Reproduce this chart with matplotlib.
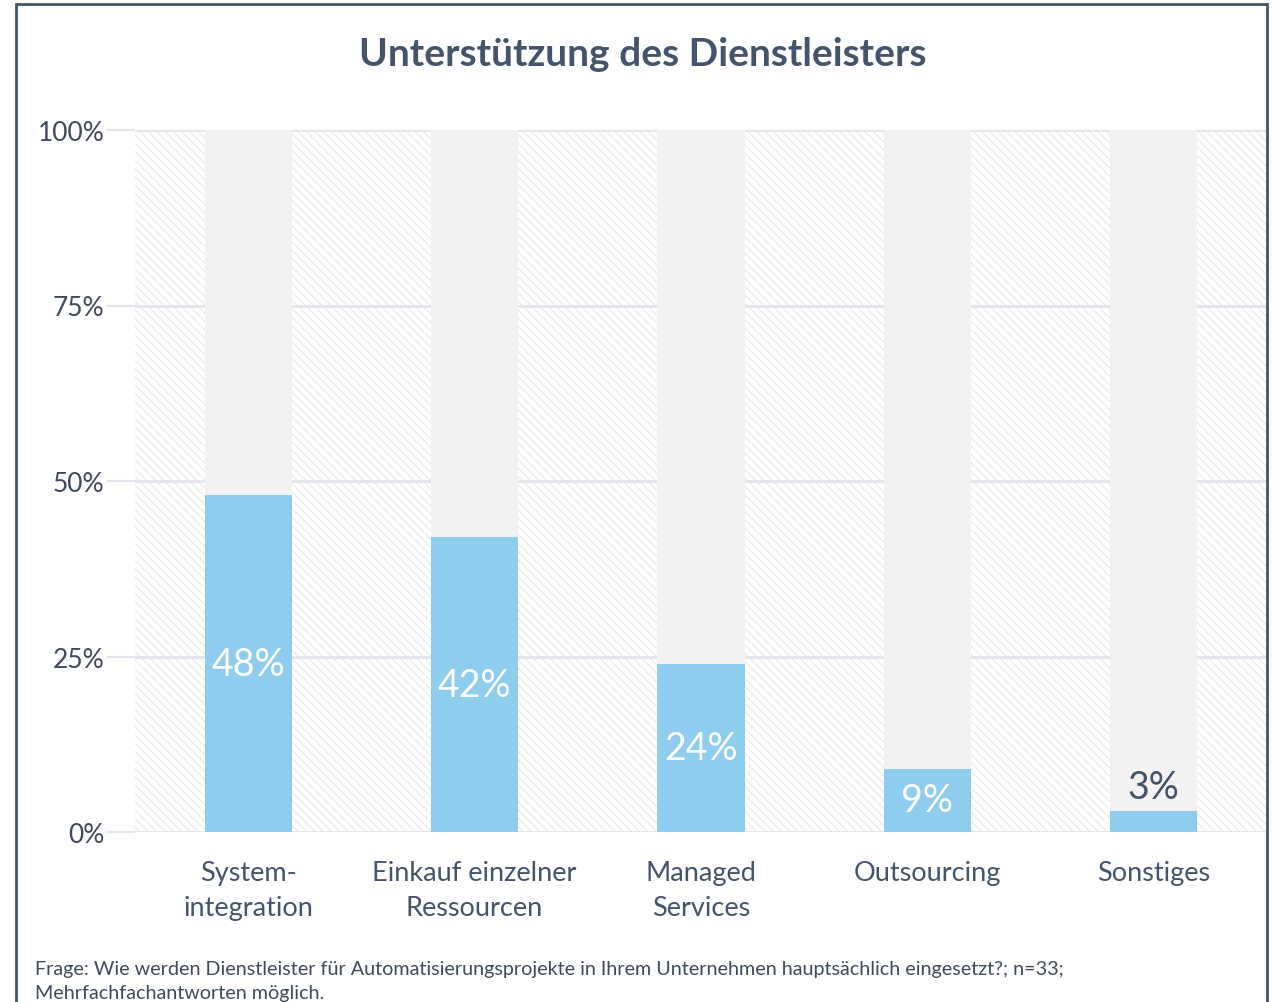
import matplotlib
matplotlib.use("Agg")
import matplotlib.pyplot as plt
from matplotlib.patches import Rectangle

categories = ["System-\nintegration", "Einkauf einzelner\nRessourcen", "Managed\nServices", "Outsourcing", "Sonstiges"]
values = [48, 42, 24, 9, 3]
labels = ["48%", "42%", "24%", "9%", "3%"]
yticks = [0, 25, 50, 75, 100]
ytick_labels = ["0%", "25%", "50%", "75%", "100%"]
title = "Unterstützung des Dienstleisters"
footer = ("Frage: Wie werden Dienstleister für Automatisierungsprojekte in Ihrem Unternehmen hauptsächlich eingesetzt?; n=33;\n"
          "Mehrfachfachantworten möglich.")

plt.rcParams['font.family'] = ['Lato', 'DejaVu Sans']
plt.rcParams['hatch.linewidth'] = 0.7
plt.rcParams['hatch.color'] = '#e6e6e6'

W, H = 1274, 1003
fig = plt.figure(figsize=(W / 100, H / 100), dpi=100)
ax = fig.add_axes([135 / W, 1 - 833 / H, (1267 - 135) / W, (833 - 131) / H])

dark = '#44546a'
text_col = '#404a5a'
blue = '#8ecdee'
grey = '#f2f2f2'
gridc = '#e1e4ea'

x = list(range(len(categories)))
ax.set_xlim(-0.5, len(categories) - 0.5)
ax.set_ylim(0, 100)

# hatched plot area background
ax.add_patch(Rectangle((0, 0), 1, 1, transform=ax.transAxes, facecolor='white',
                       edgecolor='#e6e6e6', hatch='\\\\\\\\', linewidth=0, zorder=0))
for yt in yticks:
    ax.axhline(yt, color=gridc, lw=2, zorder=1)

bw = 0.385
ax.bar(x, [100] * len(x), width=bw, color=grey, zorder=2)
ax.bar(x, values, width=bw, color=blue, zorder=3)

for xi, v, lab in zip(x, values, labels):
    if v >= 6:
        ax.text(xi, v / 2, lab, ha='center', va='center', color='white', fontsize=27, zorder=4)
    else:
        ax.text(xi, v + 0.8, lab, ha='center', va='bottom', color=dark, fontsize=27, zorder=4)

ax.set_yticks(yticks)
ax.set_yticklabels(ytick_labels, fontsize=19, color=text_col)
ax.tick_params(axis='y', length=20, width=1.5, color=gridc, pad=2)
ax.set_xticks(x)
ax.set_xticklabels(categories, fontsize=19.5, color=dark, linespacing=1.5)
ax.tick_params(axis='x', length=0, pad=20)
for s in ax.spines.values():
    s.set_visible(False)

fig.text(643 / W, 1 - 55 / H, title, ha='center', va='center', fontsize=28,
         fontweight='bold', color=dark)
fig.text(35 / W, 1 - 961 / H, footer, ha='left', va='top', fontsize=14.2,
         color=text_col, linespacing=1.5)

fig.add_artist(Rectangle((16 / W, -0.05), (1267 - 16) / W, 1 - 5 / H + 0.05,
                         transform=fig.transFigure, fill=False, edgecolor=dark, lw=2, clip_on=False))

fig.savefig("out.png", dpi=100)
